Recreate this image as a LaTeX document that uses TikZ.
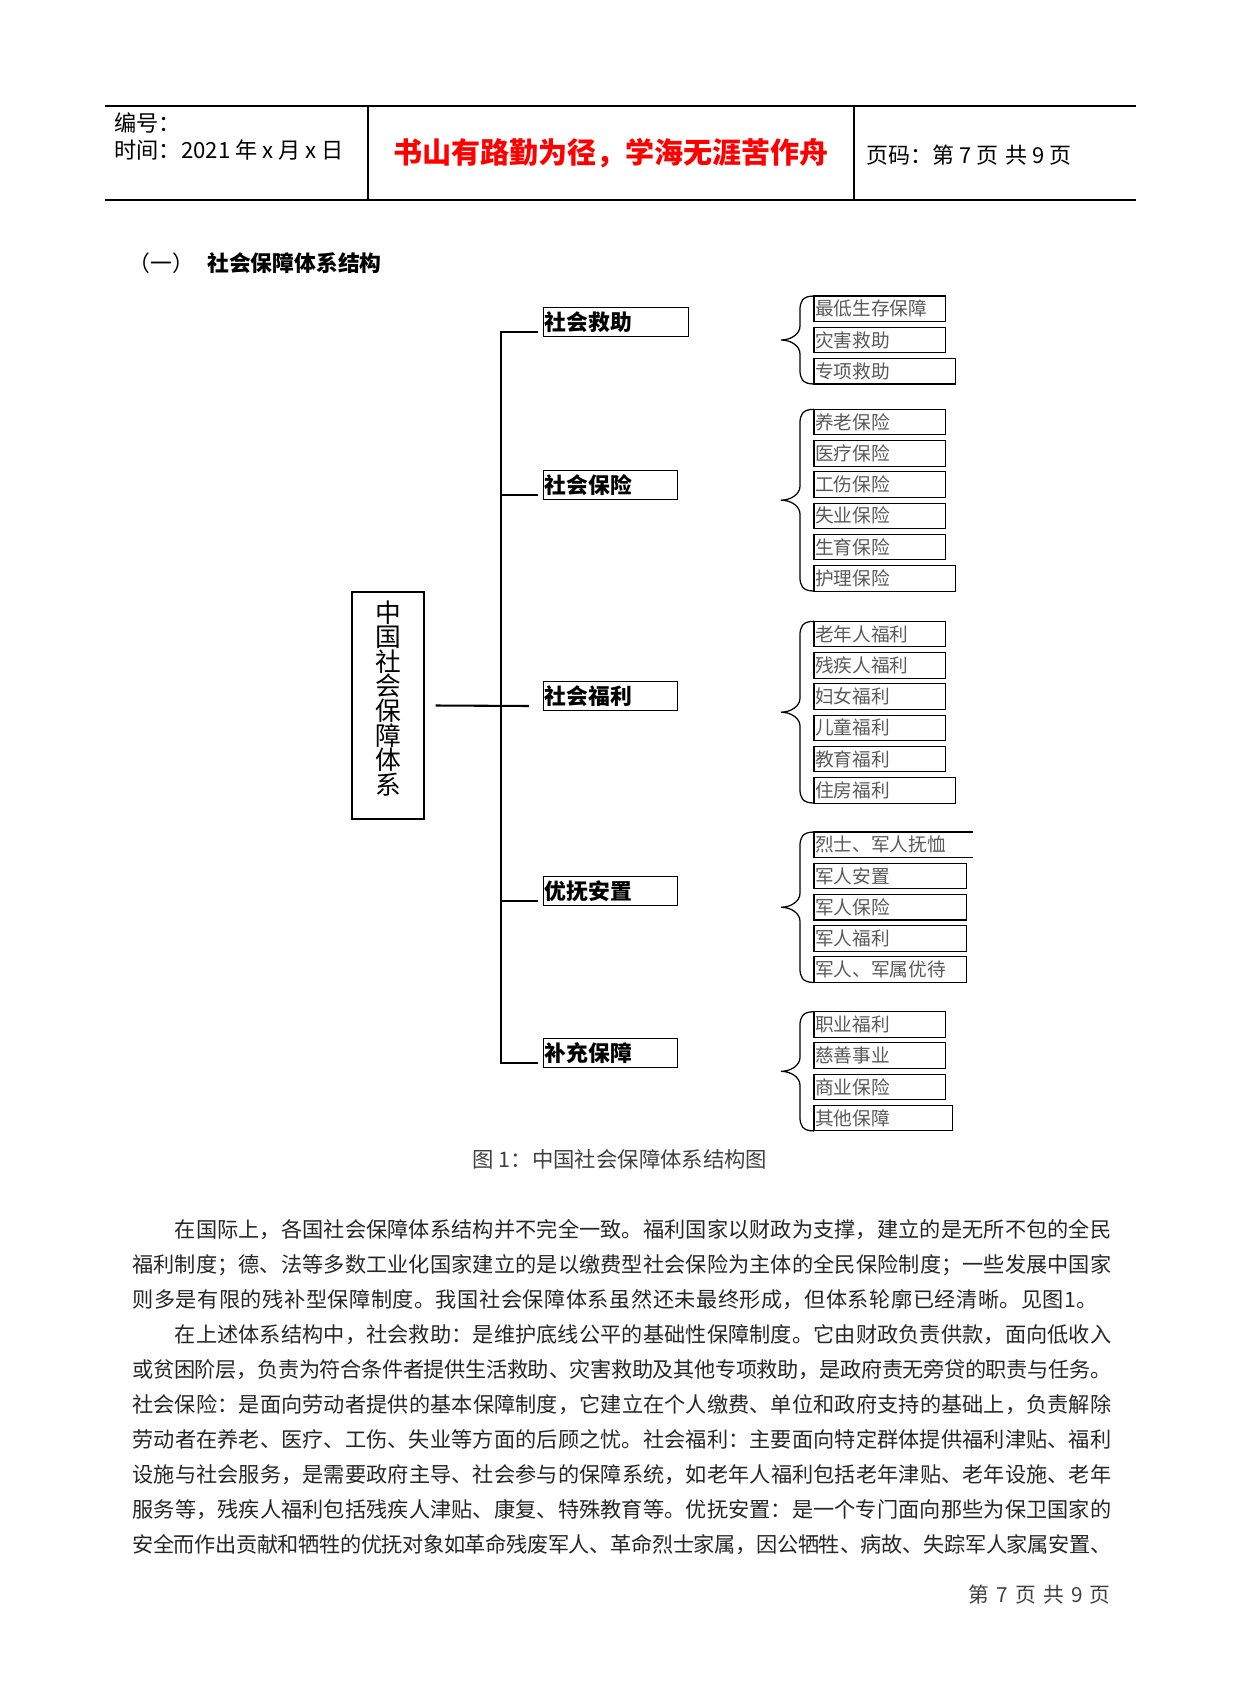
\documentclass[tikz,border=0pt]{standalone}
\usepackage{fontspec}
\setmainfont{Noto Sans CJK SC}
\usetikzlibrary{positioning,calc}
\XeTeXlinebreaklocale "zh"
\XeTeXlinebreakskip=0pt plus 5pt minus 0.5pt

% brace in front of one column of leaves, from its top box to its bottom box
\newcommand{\leafbrace}[2]{%
    \coordinate (bt) at (#1.north west);
    \coordinate (bb) at (#2.south west);
    \coordinate (bm) at ($(bt)!0.5!(bb)$);
    \draw[curl]
        (bt) .. controls +(-12,0) and +(0,-8) .. ([shift={(-14,14)}]bt)
        -- ([shift={(-14,-14)}]bm)
        .. controls +(0,8) and +(10,0) .. ([shift={(-33,0)}]bm)
        .. controls +(10,0) and +(0,-8) .. ([shift={(-14,14)}]bm)
        -- ([shift={(-14,-14)}]bb)
        .. controls +(0,8) and +(-12,0) .. (bb);
}

\begin{document}
\begin{tikzpicture}[
        x=0.16933mm, y=-0.16933mm,
        rule/.style={line width=0.6pt},
        root/.style={
            draw,
            line width=0.6pt,
            inner sep=0pt,
            align=center,
            minimum width=12.19mm,
            minimum height=38.44mm,
            font=\fontsize{12.4}{11.85}\selectfont
        },
        cat/.style={
            draw,
            line width=0.5pt,
            anchor=north west,
            inner xsep=0.2mm,
            inner ysep=0pt,
            text width=22.29mm,
            minimum height=4.9mm,
            text height=9pt,
            text depth=1.2pt,
            align=left,
            font=\fontsize{10.5}{12}\selectfont\bfseries
        },
        leaf/.style={
            draw,
            line width=0.5pt,
            anchor=north west,
            inner xsep=0.2mm,
            inner ysep=0pt,
            outer sep=0pt,
            text width=21.8mm,
            minimum height=4.32mm,
            text height=7.8pt,
            text depth=1pt,
            align=left,
            text=black!65,
            font=\fontsize{9}{10}\selectfont
        },
        stack/.style={below=0.97mm of #1.south west, anchor=north west},
        stem/.style={line width=1pt},
        curl/.style={line width=0.6pt},
        para/.style={
            anchor=base west,
            inner sep=0pt,
            text width=165.78mm,
            align=justify,
            text=black!85,
            font=\fontsize{10.2}{12}\selectfont,
            execute at begin node={\parfillskip=0pt\relax}
        }
    ]

    \useasboundingbox (0,0) rectangle (1241,1684);

    % page header
    \draw[rule] (105,106) -- (1136,106);
    \draw[rule] (105,200) -- (1136,200);
    \draw[rule] (368,106) -- (368,200);
    \draw[rule] (854,106) -- (854,200);
    \node[anchor=west, align=left, inner sep=0pt,
          font=\fontsize{10.7}{13}\selectfont] (hdleft) at (114,136.5)
        {编号：\\时间：2021 年 x 月 x 日};
    \node[text=red, inner sep=0pt, font=\fontsize{14}{16}\selectfont\bfseries]
        (motto) at (611,153.5) {书山有路勤为径，学海无涯苦作舟};
    \node[anchor=west, inner sep=0pt, font=\fontsize{10.6}{12}\selectfont]
        (pageno) at (866,155.5) {页码：第 7 页\hspace{0.3em}共 9 页};

    \node[anchor=west, inner sep=0pt, font=\fontsize{10.5}{12}\selectfont]
        (sec) at (128,263) {（一）\hspace{6.5pt}\textbf{社会保障体系结构}};

    % tree
    \node[root] (root) at (388,705.5) {中\\国\\社\\会\\保\\障\\体\\系\\[-4pt]};

    \node[cat, text width=24.15mm] (jz) at (543,307) {社会救助};
    \node[cat] (bx) at (543,470) {社会保险};
    \node[cat] (fl) at (543,681) {社会福利};
    \node[cat] (yf) at (543,876) {优抚安置};
    \node[cat] (bc) at (543,1038) {补充保障};

    \node[leaf] (g1a) at (814,296) {最低生存保障};
    \node[leaf, stack=g1a] (g1b) {灾害救助};
    \node[leaf, stack=g1b, text width=23.48mm] (g1c) {专项救助};

    \node[leaf] (g2a) at (814,409.3) {养老保险};
    \node[leaf, stack=g2a] (g2b) {医疗保险};
    \node[leaf, stack=g2b] (g2c) {工伤保险};
    \node[leaf, stack=g2c] (g2d) {失业保险};
    \node[leaf, stack=g2d] (g2e) {生育保险};
    \node[leaf, stack=g2e, text width=23.48mm] (g2f) {护理保险};

    \node[leaf] (g3a) at (814,621.3) {老年人福利};
    \node[leaf, stack=g3a] (g3b) {残疾人福利};
    \node[leaf, stack=g3b] (g3c) {妇女福利};
    \node[leaf, stack=g3c] (g3d) {儿童福利};
    \node[leaf, stack=g3d] (g3e) {教育福利};
    \node[leaf, stack=g3e, text width=23.48mm] (g3f) {住房福利};

    \node[leaf, draw=none, text width=26.52mm] (g4a) at (814,832) {烈士、军人抚恤};
    \node[leaf, stack=g4a, text width=25.34mm] (g4b) {军人安置};
    \node[leaf, stack=g4b, text width=25.34mm] (g4c) {军人保险};
    \node[leaf, stack=g4c, text width=25.34mm] (g4d) {军人福利};
    \node[leaf, stack=g4d, text width=25.34mm] (g4e) {军人、军属优待};

    \node[leaf] (g5a) at (814,1011.7) {职业福利};
    \node[leaf, stack=g5a] (g5b) {慈善事业};
    \node[leaf, stack=g5b] (g5c) {商业保险};
    \node[leaf, stack=g5c, text width=22.97mm] (g5d) {其他保障};

    % the first military box is open on its right side
    \draw[line width=0.5pt]
        (g4a.north east) -- (g4a.north west) -- (g4a.south west) -- (g4a.south east);

    \draw[stem] ([shift={(11,0)}]root.east) -- ([shift={(-14,10)}]fl.west);
    \draw[stem] ([shift={(-5,10)}]jz.west) -- ++(-37,0) |- ([shift={(-5,10)}]bc.west);
    \draw[line width=0.5pt] ([shift={(-5,10)}]bx.west) -- ++(-37,0);
    \draw[stem] ([shift={(-5,10)}]yf.west) -- ++(-37,0);

    \leafbrace{g1a}{g1c}
    \leafbrace{g2a}{g2f}
    \leafbrace{g3a}{g3f}
    \leafbrace{g4a}{g4e}
    \leafbrace{g5a}{g5d}

    \node[text=black!75, inner sep=0pt, font=\fontsize{10.3}{12}\selectfont]
        (caption) at (620,1159) {图 1：中国社会保障体系结构图};

    % body text, one node per printed line
    \node[para] (p1) at (132,1237.2)
        {\hspace*{2em}在国际上，各国社会保障体系结构并不完全一致。福利国家以财政为支撑，建立的是无所不包的全民};
    \node[para] (p2) at (132,1272.3)
        {福利制度；德、法等多数工业化国家建立的是以缴费型社会保险为主体的全民保险制度；一些发展中国家};
    \node[para, text width=163.4mm] (p3) at (132,1307.3)
        {则多是有限的残补型保障制度。我国社会保障体系虽然还未最终形成，但体系轮廓已经清晰。见图1。};
    \node[para] (p4) at (132,1342.4)
        {\hspace*{2em}在上述体系结构中，社会救助：是维护底线公平的基础性保障制度。它由财政负责供款，面向低收入};
    \node[para] (p5) at (132,1377.5)
        {或贫困阶层，负责为符合条件者提供生活救助、灾害救助及其他专项救助，是政府责无旁贷的职责与任务。};
    \node[para] (p6) at (132,1412.6)
        {社会保险：是面向劳动者提供的基本保障制度，它建立在个人缴费、单位和政府支持的基础上，负责解除};
    \node[para] (p7) at (132,1447.6)
        {劳动者在养老、医疗、工伤、失业等方面的后顾之忧。社会福利：主要面向特定群体提供福利津贴、福利};
    \node[para] (p8) at (132,1482.7)
        {设施与社会服务，是需要政府主导、社会参与的保障系统，如老年人福利包括老年津贴、老年设施、老年};
    \node[para] (p9) at (132,1517.8)
        {服务等，残疾人福利包括残疾人津贴、康复、特殊教育等。优抚安置：是一个专门面向那些为保卫国家的};
    \node[para] (p10) at (132,1552.8)
        {安全而作出贡献和牺牲的优抚对象如革命残废军人、革命烈士家属，因公牺牲、病故、失踪军人家属安置、};

    \node[anchor=east, inner sep=0pt, text=black!75, font=\fontsize{10}{12}\selectfont]
        (footer) at (1111,1595)
        {第\hspace{0.35em}7\hspace{0.35em}页\hspace{0.35em}共\hspace{0.35em}9\hspace{0.35em}页};

\end{tikzpicture}
\end{document}
